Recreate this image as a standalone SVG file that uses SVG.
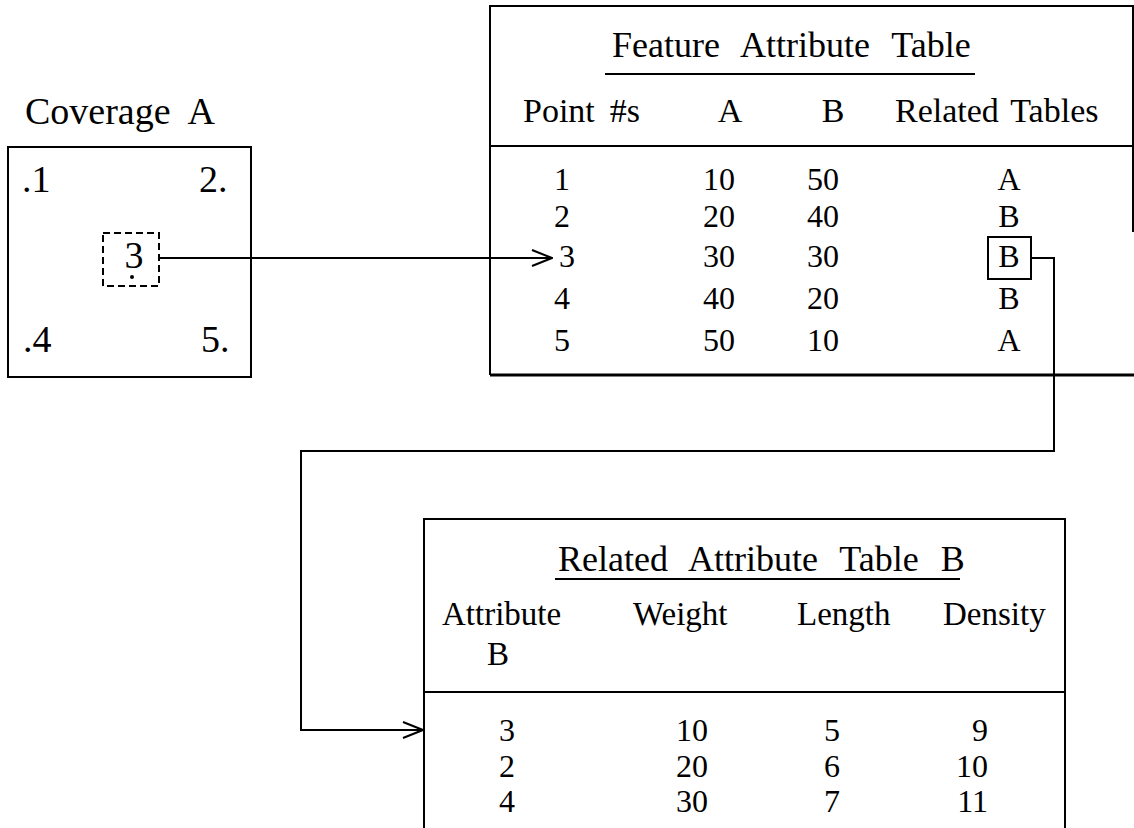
<svg xmlns="http://www.w3.org/2000/svg" width="1134" height="828" viewBox="0 0 1134 828" font-family="'Liberation Serif', 'Times New Roman', Times, serif">
<style>
.cov{font-size:38px}
.ttl{font-size:36px}
.hd{font-size:34px}
.hd2{font-size:33px}
.cell{font-size:32px}
.m{text-anchor:middle}
.e{text-anchor:end}
.ln{fill:none;stroke:#000;stroke-width:2}
.thick{fill:none;stroke:#000;stroke-width:3}
</style>
<defs>
<marker id="chev" viewBox="0 0 22 18" refX="21" refY="9" markerWidth="22" markerHeight="18" markerUnits="userSpaceOnUse" orient="auto">
<path d="M1,1 L21,9 L1,17" fill="none" stroke="#000" stroke-width="2"/>
</marker>
</defs>
<rect width="1134" height="828" fill="#fff"/>

<g id="coverage-a">
<text class="cov" x="25" y="124" word-spacing="9.5">Coverage A</text>
<rect class="ln" x="8" y="147" width="243" height="230"/>
<text class="cov" x="22" y="192">.1</text>
<text class="cov" x="199" y="192">2.</text>
<text class="cov" x="23" y="352">.4</text>
<text class="cov" x="201" y="352">5.</text>
<rect class="ln" x="103" y="233" width="56" height="53" stroke-dasharray="7 4"/>
<text class="cov m" x="134" y="268">3</text>
<circle cx="132" cy="277" r="2" fill="#000"/>
</g>

<g id="feature-attribute-table">
<path class="ln" d="M490,375 V6 H1133 V232"/>
<path class="thick" d="M490,375 H1134"/>
<text class="ttl" x="612" y="57" word-spacing="13">Feature Attribute Table</text>
<line class="ln" x1="605" y1="74" x2="975" y2="74"/>
<text class="hd" x="523" y="122" word-spacing="6.5">Point #s</text>
<text class="hd m" x="730" y="122">A</text>
<text class="hd m" x="833" y="122">B</text>
<text class="hd" x="895" y="122" word-spacing="3.5">Related Tables</text>
<line class="ln" x1="490" y1="146" x2="1133" y2="146"/>
<text class="cell m" x="562" y="190">1</text>
<text class="cell m" x="719" y="190">10</text>
<text class="cell m" x="823" y="190">50</text>
<text class="cell m" x="1009" y="190">A</text>
<text class="cell m" x="562" y="227">2</text>
<text class="cell m" x="719" y="227">20</text>
<text class="cell m" x="823" y="227">40</text>
<text class="cell m" x="1009" y="227">B</text>
<text class="cell m" x="567" y="267">3</text>
<text class="cell m" x="719" y="267">30</text>
<text class="cell m" x="823" y="267">30</text>
<text class="cell m" x="1009" y="267">B</text>
<text class="cell m" x="562" y="309">4</text>
<text class="cell m" x="719" y="309">40</text>
<text class="cell m" x="823" y="309">20</text>
<text class="cell m" x="1009" y="309">B</text>
<text class="cell m" x="562" y="351">5</text>
<text class="cell m" x="719" y="351">50</text>
<text class="cell m" x="823" y="351">10</text>
<text class="cell m" x="1009" y="351">A</text>
<rect class="ln" x="988" y="237" width="43" height="42"/>
</g>

<g id="related-attribute-table-b">
<path class="ln" d="M424,830 V519 H1065 V830"/>
<text class="ttl" x="558" y="571" font-size="35" word-spacing="13">Related Attribute Table B</text>
<line class="ln" x1="555" y1="579" x2="960" y2="579"/>
<text class="hd2" x="442" y="625">Attribute<tspan class="m" x="498" y="665">B</tspan></text>
<text class="hd2" x="633" y="625">Weight</text>
<text class="hd2" x="797" y="625">Length</text>
<text class="hd2" x="943" y="625">Density</text>
<line class="ln" x1="424" y1="692" x2="1065" y2="692"/>
<text class="cell m" x="507" y="741">3</text>
<text class="cell m" x="692" y="741">10</text>
<text class="cell m" x="832" y="741">5</text>
<text class="cell e" x="988" y="741">9</text>
<text class="cell m" x="507" y="777">2</text>
<text class="cell m" x="692" y="777">20</text>
<text class="cell m" x="832" y="777">6</text>
<text class="cell e" x="988" y="777">10</text>
<text class="cell m" x="507" y="812">4</text>
<text class="cell m" x="692" y="812">30</text>
<text class="cell m" x="832" y="812">7</text>
<text class="cell e" x="988" y="812">11</text>
</g>

<g id="connectors">
<path class="ln" d="M160,258 H552" marker-end="url(#chev)"/>
<path class="ln" d="M1031,258 H1054 V451 H301 V730 H423" marker-end="url(#chev)"/>
</g>
</svg>
